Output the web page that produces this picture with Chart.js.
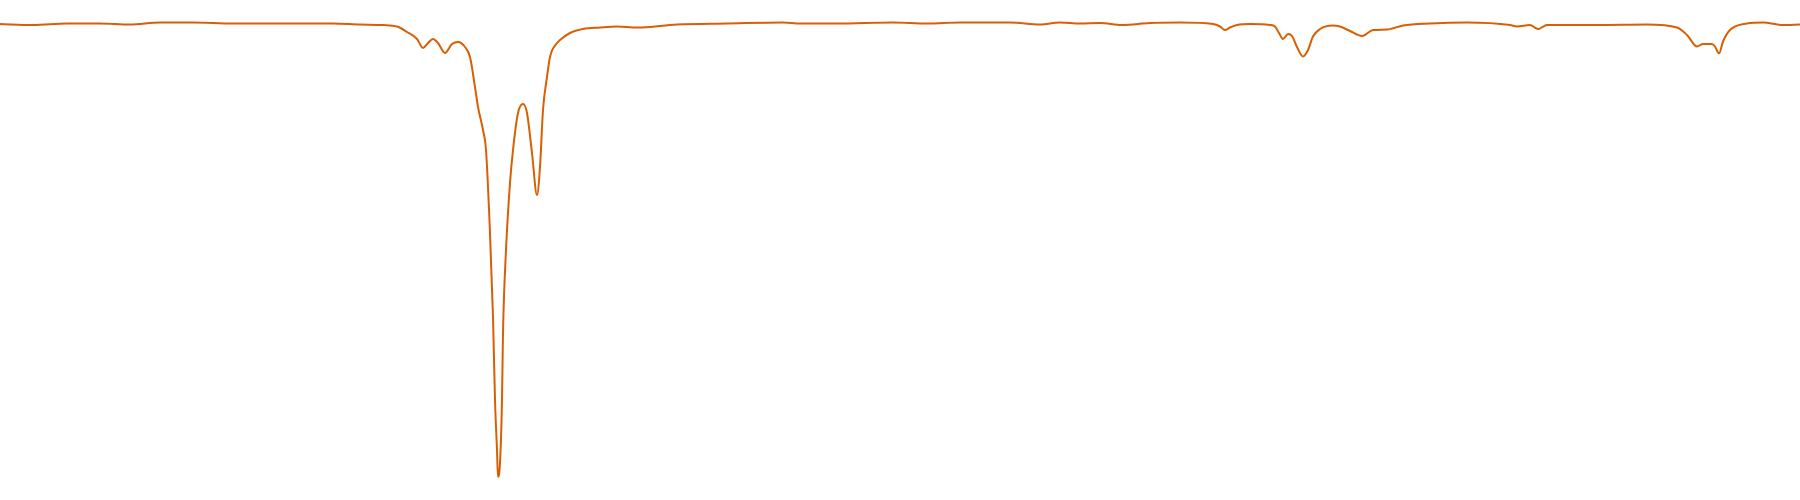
<!DOCTYPE html>
<html>
<head>
<meta charset="utf-8">
<script src="https://cdn.jsdelivr.net/npm/chart.js@4/dist/chart.umd.min.js"></script>
<style>
    html, body { margin: 0; padding: 0; background: #ffffff; }
    #chart-wrap { width: 1800px; height: 500px; }
</style>
</head>
<body>
<div id="chart-wrap"><canvas id="canvas"></canvas></div>
<script>
// Spectrum: wavenumber (cm-1) and transmittance (%)
const wavenumbers = [
    4000, 3934, 3866, 3800, 3740, 3680, 3614, 3534, 3466, 3400,
    3334, 3280, 3234, 3206, 3186, 3166, 3154, 3144, 3134, 3124,
    3110, 3096, 3084, 3070, 3060, 3050, 3044, 3034, 3028, 3020,
    3014, 3010, 3006, 3004, 3000, 2996, 2994, 2988, 2980, 2974,
    2964, 2954, 2946, 2936, 2926, 2920, 2914, 2906, 2900, 2886,
    2880, 2860, 2834, 2800, 2766, 2726, 2646, 2546, 2434, 2400,
    2326, 2214, 2146, 2080, 1980, 1920, 1880, 1840, 1800, 1756,
    1700, 1640, 1574, 1560, 1550, 1540, 1526, 1500, 1460, 1450,
    1442, 1434, 1424, 1416, 1406, 1394, 1384, 1374, 1360, 1334,
    1320, 1300, 1276, 1254, 1226, 1194, 1140, 1066, 980, 966,
    940, 924, 906, 806, 706, 646, 626, 606, 594, 576,
    570, 562, 554, 540, 506, 474, 434, 400
];

const transmittance = [
    95.2, 95.0, 95.3, 95.3, 95.1, 95.5, 95.5, 95.3, 95.3, 95.3,
    95.3, 95.1, 95.0, 94.7, 93.6, 92.2, 90.4, 91.4, 92.2, 91.4,
    89.4, 91.2, 91.6, 90.6, 88.6, 82.6, 78.6, 74.0, 70.0, 53.4,
    36.6, 20.0, 10.0, 4.6, 7.4, 20.0, 33.4, 50.0, 63.4, 70.0,
    77.4, 79.2, 77.4, 69.4, 61.0, 66.6, 78.0, 84.6, 88.6, 91.4,
    92.0, 93.4, 94.2, 94.5, 94.7, 94.5, 95.1, 95.3, 95.5, 95.3,
    95.3, 95.5, 95.3, 95.5, 95.5, 95.1, 95.5, 95.3, 95.4, 95.0,
    95.4, 95.5, 95.2, 94.7, 94.0, 94.5, 95.0, 95.2, 95.0, 94.7,
    93.4, 92.2, 93.2, 92.8, 90.6, 88.7, 90.0, 92.7, 94.2, 94.9,
    94.7, 93.8, 92.8, 94.0, 94.1, 94.9, 95.3, 95.5, 95.0, 94.7,
    95.0, 94.2, 95.0, 95.0, 95.1, 94.5, 93.0, 90.7, 91.2, 91.2,
    90.7, 89.3, 91.7, 94.0, 95.3, 95.5, 95.0, 95.1
];

const points = wavenumbers.map((wn, i) => ({ x: wn, y: transmittance[i] }));

new Chart(document.getElementById('canvas'), {
    type: 'line',
    data: {
        datasets: [{
            label: 'Transmittance',
            data: points,
            borderColor: '#d95f02',
            borderWidth: 2,
            pointRadius: 0,
            fill: false,
            cubicInterpolationMode: 'monotone'
        }]
    },
    options: {
        responsive: true,
        maintainAspectRatio: false,
        animation: false,
        layout: { padding: 0 },
        plugins: {
            legend: { display: false },
            tooltip: { enabled: false }
        },
        scales: {
            x: {
                type: 'linear',
                reverse: true,
                min: 400,
                max: 4000,
                display: false
            },
            y: {
                min: 0,
                max: 100,
                display: false
            }
        }
    }
});
</script>
</body>
</html>
